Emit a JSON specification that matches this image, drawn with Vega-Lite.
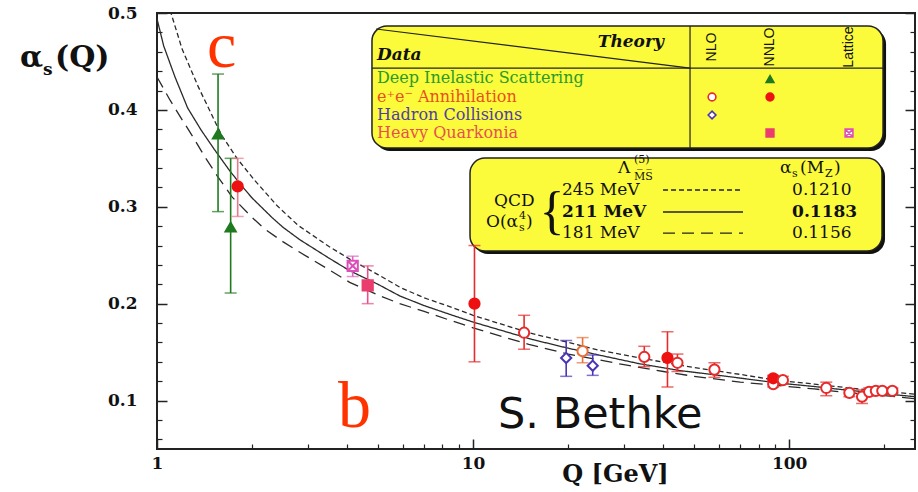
{
  "$schema": "https://vega.github.io/schema/vega-lite/v6.json",
  "width": 758,
  "height": 436,
  "autosize": {"type": "none"},
  "padding": {"left": 157, "top": 13, "right": 3, "bottom": 43},
  "background": "#ffffff",
  "config": {
    "view": {"stroke": "#222222", "strokeWidth": 2},
    "axis": {"grid": false, "domain": false, "tickColor": "#222222"}
  },
  "resolve": {"axis": {"x": "independent", "y": "independent"}},
  "datasets": {
    "curves": [
      {"Q": 1.1, "a": 0.503, "lam": "245"}, {"Q": 1.2, "a": 0.463, "lam": "245"}, {"Q": 1.35, "a": 0.424, "lam": "245"},
      {"Q": 1.6, "a": 0.374, "lam": "245"}, {"Q": 1.8, "a": 0.349, "lam": "245"}, {"Q": 2.04, "a": 0.327, "lam": "245"},
      {"Q": 2.4, "a": 0.301, "lam": "245"}, {"Q": 2.79, "a": 0.281, "lam": "245"}, {"Q": 3.5, "a": 0.259, "lam": "245"},
      {"Q": 4.07, "a": 0.246, "lam": "245"}, {"Q": 5, "a": 0.23, "lam": "245"}, {"Q": 5.86, "a": 0.217, "lam": "245"},
      {"Q": 7, "a": 0.206, "lam": "245"}, {"Q": 8.43, "a": 0.197, "lam": "245"}, {"Q": 10, "a": 0.188, "lam": "245"},
      {"Q": 15, "a": 0.17, "lam": "245"}, {"Q": 20, "a": 0.16, "lam": "245"}, {"Q": 25, "a": 0.152, "lam": "245"},
      {"Q": 35, "a": 0.143, "lam": "245"}, {"Q": 50, "a": 0.134, "lam": "245"}, {"Q": 70, "a": 0.127, "lam": "245"},
      {"Q": 91.2, "a": 0.121, "lam": "245"}, {"Q": 120, "a": 0.117, "lam": "245"}, {"Q": 150, "a": 0.1135, "lam": "245"},
      {"Q": 200, "a": 0.1095, "lam": "245"}, {"Q": 250, "a": 0.1065, "lam": "245"},
      {"Q": 1.0, "a": 0.494, "lam": "211"}, {"Q": 1.05, "a": 0.466, "lam": "211"}, {"Q": 1.14, "a": 0.434, "lam": "211"},
      {"Q": 1.25, "a": 0.402, "lam": "211"}, {"Q": 1.38, "a": 0.379, "lam": "211"}, {"Q": 1.52, "a": 0.359, "lam": "211"},
      {"Q": 1.7, "a": 0.337, "lam": "211"}, {"Q": 1.86, "a": 0.321, "lam": "211"}, {"Q": 2.0, "a": 0.309, "lam": "211"},
      {"Q": 2.31, "a": 0.289, "lam": "211"}, {"Q": 2.5, "a": 0.279, "lam": "211"}, {"Q": 2.83, "a": 0.266, "lam": "211"},
      {"Q": 3.5, "a": 0.247, "lam": "211"}, {"Q": 4.07, "a": 0.234, "lam": "211"}, {"Q": 5, "a": 0.22, "lam": "211"},
      {"Q": 5.86, "a": 0.208, "lam": "211"}, {"Q": 7, "a": 0.198, "lam": "211"}, {"Q": 8.43, "a": 0.189, "lam": "211"},
      {"Q": 10, "a": 0.181, "lam": "211"}, {"Q": 15.4, "a": 0.163, "lam": "211"}, {"Q": 20, "a": 0.154, "lam": "211"},
      {"Q": 25, "a": 0.147, "lam": "211"}, {"Q": 33.6, "a": 0.138, "lam": "211"}, {"Q": 45, "a": 0.131, "lam": "211"},
      {"Q": 60, "a": 0.126, "lam": "211"}, {"Q": 91.2, "a": 0.1183, "lam": "211"}, {"Q": 120, "a": 0.1145, "lam": "211"},
      {"Q": 150, "a": 0.111, "lam": "211"}, {"Q": 200, "a": 0.107, "lam": "211"}, {"Q": 250, "a": 0.104, "lam": "211"},
      {"Q": 1.0, "a": 0.434, "lam": "181"}, {"Q": 1.1, "a": 0.41, "lam": "181"}, {"Q": 1.2, "a": 0.39, "lam": "181"},
      {"Q": 1.3, "a": 0.372, "lam": "181"}, {"Q": 1.42, "a": 0.351, "lam": "181"}, {"Q": 1.55, "a": 0.332, "lam": "181"},
      {"Q": 1.73, "a": 0.31, "lam": "181"}, {"Q": 2.0, "a": 0.289, "lam": "181"}, {"Q": 2.19, "a": 0.277, "lam": "181"},
      {"Q": 2.5, "a": 0.264, "lam": "181"}, {"Q": 2.83, "a": 0.253, "lam": "181"}, {"Q": 3.5, "a": 0.235, "lam": "181"},
      {"Q": 4.07, "a": 0.222, "lam": "181"}, {"Q": 5, "a": 0.209, "lam": "181"}, {"Q": 5.86, "a": 0.2, "lam": "181"},
      {"Q": 7, "a": 0.192, "lam": "181"}, {"Q": 8.43, "a": 0.183, "lam": "181"}, {"Q": 10, "a": 0.175, "lam": "181"},
      {"Q": 15, "a": 0.158, "lam": "181"}, {"Q": 20, "a": 0.148, "lam": "181"}, {"Q": 25, "a": 0.142, "lam": "181"},
      {"Q": 30, "a": 0.137, "lam": "181"}, {"Q": 40, "a": 0.13, "lam": "181"}, {"Q": 50, "a": 0.125, "lam": "181"},
      {"Q": 70, "a": 0.119, "lam": "181"}, {"Q": 91.2, "a": 0.1156, "lam": "181"}, {"Q": 120, "a": 0.112, "lam": "181"},
      {"Q": 150, "a": 0.1085, "lam": "181"}, {"Q": 200, "a": 0.105, "lam": "181"}, {"Q": 250, "a": 0.102, "lam": "181"}
    ],
    "pts": [
      {"Q": 1.56, "v": 0.375, "lo": 0.295, "hi": 0.437, "kind": "tri", "eb": "dis"},
      {"Q": 1.71, "v": 0.279, "lo": 0.211, "hi": 0.35, "kind": "tri", "eb": "dis"},
      {"Q": 1.8, "v": 0.321, "lo": 0.29, "hi": 0.35, "kind": "dot", "eb": "tau"},
      {"Q": 4.16, "v": 0.239, "lo": 0.228, "hi": 0.249, "kind": "lat", "eb": "lat"},
      {"Q": 4.64, "v": 0.219, "lo": 0.2, "hi": 0.239, "kind": "sq", "eb": "hq"},
      {"Q": 10.1, "v": 0.2, "lo": 0.14, "hi": 0.26, "kind": "dot", "eb": "ee"},
      {"Q": 14.5, "v": 0.17, "lo": 0.153, "hi": 0.188, "kind": "ring", "eb": "ee"},
      {"Q": 19.7, "v": 0.144, "lo": 0.125, "hi": 0.162, "kind": "dia", "eb": "had"},
      {"Q": 22.2, "v": 0.151, "lo": 0.139, "hi": 0.165, "kind": "ring2", "eb": "ee2"},
      {"Q": 23.9, "v": 0.136, "lo": 0.126, "hi": 0.147, "kind": "dia", "eb": "had"},
      {"Q": 34.8, "v": 0.145, "lo": 0.135, "hi": 0.156, "kind": "ring", "eb": "ee"},
      {"Q": 41.2, "v": 0.144, "lo": 0.114, "hi": 0.171, "kind": "dot", "eb": "ee"},
      {"Q": 44.3, "v": 0.139, "lo": 0.13, "hi": 0.148, "kind": "ring", "eb": "ee"},
      {"Q": 58.0, "v": 0.132, "lo": 0.124, "hi": 0.139, "kind": "ring", "eb": "ee"},
      {"Q": 89.0, "v": 0.117, "lo": 0.114, "hi": 0.12, "kind": "ring", "eb": "ee"},
      {"Q": 89.0, "v": 0.123, "lo": 0.12, "hi": 0.126, "kind": "dot", "eb": "ee"},
      {"Q": 95.5, "v": 0.121, "lo": 0.117, "hi": 0.125, "kind": "ring", "eb": "ee"},
      {"Q": 131, "v": 0.113, "lo": 0.105, "hi": 0.119, "kind": "ring", "eb": "ee"},
      {"Q": 155, "v": 0.108, "lo": 0.104, "hi": 0.112, "kind": "ring", "eb": "ee"},
      {"Q": 170, "v": 0.104, "lo": 0.097, "hi": 0.111, "kind": "ring", "eb": "ee"},
      {"Q": 179, "v": 0.109, "lo": 0.105, "hi": 0.113, "kind": "ring", "eb": "ee"},
      {"Q": 188, "v": 0.11, "lo": 0.106, "hi": 0.114, "kind": "ring", "eb": "ee"},
      {"Q": 197, "v": 0.11, "lo": 0.107, "hi": 0.113, "kind": "ring", "eb": "ee"},
      {"Q": 212, "v": 0.11, "lo": 0.107, "hi": 0.113, "kind": "ring", "eb": "ee"}
    ],
    "keys": [
      {"Q": 86.95, "a": 0.4319, "kind": "tri"},
      {"Q": 57.0, "a": 0.4133, "kind": "ring"},
      {"Q": 86.95, "a": 0.4133, "kind": "dot"},
      {"Q": 57.0, "a": 0.3947, "kind": "dia"},
      {"Q": 86.95, "a": 0.3761, "kind": "sq"},
      {"Q": 154.6, "a": 0.3761, "kind": "lat"}
    ],
    "boxes": [
      {"x1": 4.787, "x2": 198.1, "y1": 0.4866, "y2": 0.3607},
      {"x1": 9.777, "x2": 196.6, "y1": 0.3503, "y2": 0.2544}
    ],
    "seps": [
      {"x1": 48.56, "y1": 0.4866, "x2": 48.56, "y2": 0.3607},
      {"x1": 4.787, "y1": 0.4432, "x2": 198.1, "y2": 0.4432},
      {"x1": 4.93, "y1": 0.4835, "x2": 48.56, "y2": 0.4432}
    ],
    "samples": [
      {"x1": 39.88, "x2": 71.42, "y": 0.3173, "lam": "245"},
      {"x1": 39.88, "x2": 71.42, "y": 0.2946, "lam": "211"},
      {"x1": 39.88, "x2": 71.42, "y": 0.2729, "lam": "181"}
    ]
  },
  "layer": [
    {
      "data": {"name": "boxes"},
      "mark": {"type": "rect", "fill": "#111111", "cornerRadius": 15, "xOffset": 3, "x2Offset": 3, "yOffset": 3, "y2Offset": 3},
      "encoding": {
        "x": {"field": "x1", "type": "quantitative", "scale": {"type": "log", "domain": [1, 250], "nice": false}, "axis": null},
        "x2": {"field": "x2"},
        "y": {"field": "y1", "type": "quantitative", "scale": {"domain": [0.05, 0.5], "nice": false, "zero": false}, "axis": null},
        "y2": {"field": "y2"}
      }
    },
    {
      "data": {"name": "boxes"},
      "mark": {"type": "rect", "fill": "#fbfb3c", "stroke": "#222222", "strokeWidth": 1.5, "cornerRadius": 15},
      "encoding": {
        "x": {"field": "x1", "type": "quantitative", "scale": {"type": "log", "domain": [1, 250], "nice": false}, "axis": null},
        "x2": {"field": "x2"},
        "y": {"field": "y1", "type": "quantitative", "scale": {"domain": [0.05, 0.5], "nice": false, "zero": false}, "axis": null},
        "y2": {"field": "y2"}
      }
    },
    {
      "data": {"name": "seps"},
      "mark": {"type": "rule", "stroke": "#222222", "strokeWidth": 1.2},
      "encoding": {
        "x": {"field": "x1", "type": "quantitative", "scale": {"type": "log", "domain": [1, 250], "nice": false}, "axis": null},
        "x2": {"field": "x2"},
        "y": {"field": "y1", "type": "quantitative", "scale": {"domain": [0.05, 0.5], "nice": false, "zero": false}, "axis": null},
        "y2": {"field": "y2"}
      }
    },
    {
      "data": {"name": "samples"},
      "mark": {"type": "rule", "stroke": "#222222", "strokeWidth": 1.3},
      "encoding": {
        "x": {"field": "x1", "type": "quantitative", "scale": {"type": "log", "domain": [1, 250], "nice": false}, "axis": null},
        "x2": {"field": "x2"},
        "y": {"field": "y", "type": "quantitative", "scale": {"domain": [0.05, 0.5], "nice": false, "zero": false}, "axis": null},
        "strokeDash": {"field": "lam", "type": "nominal", "scale": {"domain": ["245", "211", "181"], "range": [[5, 3], [1, 0], [12, 7]]}, "legend": null}
      }
    },
    {
      "data": {"name": "curves"},
      "mark": {"type": "line", "clip": true, "stroke": "#2a2a2a", "strokeWidth": 1.3},
      "encoding": {
        "x": {
          "field": "Q", "type": "quantitative",
          "scale": {"type": "log", "domain": [1, 250], "nice": false},
          "axis": {
            "orient": "bottom",
            "values": [1, 10, 100],
            "format": "d",
            "offset": -10,
            "tickSize": 10, "tickWidth": 1.5,
            "labelFont": "DejaVu Serif", "labelFontWeight": "bold", "labelFontSize": 17, "labelColor": "#111111",
            "labelPadding": 6, "labelFlush": false, "labelOverlap": false,
            "title": "Q [GeV]", "titleFont": "DejaVu Serif", "titleFontWeight": "bold", "titleFontSize": 24, "titleColor": "#111111",
            "titleX": 458, "titleY": 35, "titleBaseline": "middle", "titleAlign": "center"
          }
        },
        "y": {
          "field": "a", "type": "quantitative",
          "scale": {"domain": [0.05, 0.5], "nice": false, "zero": false},
          "axis": {
            "orient": "left",
            "values": [0.1, 0.2, 0.3, 0.4, 0.5],
            "format": ".1f",
            "offset": -10,
            "tickSize": 10, "tickWidth": 1.5,
            "labelFont": "DejaVu Serif", "labelFontWeight": "bold", "labelFontSize": 17, "labelColor": "#111111",
            "labelPadding": 20, "labelFlush": false, "labelOverlap": false,
            "title": null
          }
        },
        "strokeDash": {"field": "lam", "type": "nominal", "scale": {"domain": ["245", "211", "181"], "range": [[5, 3], [1, 0], [12, 7]]}, "legend": null}
      }
    },
    {
      "data": {"name": "pts"},
      "mark": {"type": "rule", "strokeWidth": 1.6},
      "encoding": {
        "x": {
          "field": "Q", "type": "quantitative",
          "scale": {"type": "log", "domain": [1, 250], "nice": false},
          "axis": {
            "orient": "bottom",
            "values": [2, 3, 4, 5, 6, 7, 8, 9, 20, 30, 40, 50, 60, 70, 80, 90, 200],
            "labels": false,
            "offset": -5,
            "tickSize": 5, "tickWidth": 1.2,
            "title": null
          }
        },
        "y": {
          "field": "lo", "type": "quantitative",
          "scale": {"domain": [0.05, 0.5], "nice": false, "zero": false},
          "axis": {
            "orient": "right",
            "values": [0.1, 0.2, 0.3, 0.4, 0.5],
            "labels": false,
            "offset": -10,
            "tickSize": 10, "tickWidth": 1.5,
            "title": null
          }
        },
        "y2": {"field": "hi"},
        "color": {
          "field": "eb", "type": "nominal",
          "scale": {
            "domain": ["dis", "tau", "ee", "ee2", "had", "hq", "lat", "t_dis", "t_ee", "t_had", "t_hq"],
            "range": ["#1f7a1f", "#e67a8c", "#e52b2b", "#e8703a", "#4b35b5", "#ea4f8a", "#e063c2", "#2a9a2a", "#e8501e", "#5040a0", "#e85050"]
          },
          "legend": null
        }
      }
    },
    {
      "data": {"name": "pts"},
      "mark": {"type": "tick", "orient": "horizontal", "size": 12, "thickness": 1.5},
      "encoding": {
        "x": {"field": "Q", "type": "quantitative", "scale": {"type": "log", "domain": [1, 250], "nice": false}, "axis": null},
        "y": {
          "field": "lo", "type": "quantitative",
          "scale": {"domain": [0.05, 0.5], "nice": false, "zero": false},
          "axis": {
            "orient": "left",
            "values": [0.06, 0.08, 0.12, 0.14, 0.16, 0.18, 0.22, 0.24, 0.26, 0.28, 0.32, 0.34, 0.36, 0.38, 0.42, 0.44, 0.46, 0.48],
            "labels": false,
            "offset": -5,
            "tickSize": 5, "tickWidth": 1.2,
            "title": null
          }
        },
        "color": {"field": "eb", "type": "nominal", "legend": null}
      }
    },
    {
      "data": {"name": "pts"},
      "mark": {"type": "tick", "orient": "horizontal", "size": 12, "thickness": 1.5},
      "encoding": {
        "x": {"field": "Q", "type": "quantitative", "scale": {"type": "log", "domain": [1, 250], "nice": false}, "axis": null},
        "y": {
          "field": "hi", "type": "quantitative",
          "scale": {"domain": [0.05, 0.5], "nice": false, "zero": false},
          "axis": {
            "orient": "right",
            "values": [0.06, 0.08, 0.12, 0.14, 0.16, 0.18, 0.22, 0.24, 0.26, 0.28, 0.32, 0.34, 0.36, 0.38, 0.42, 0.44, 0.46, 0.48],
            "labels": false,
            "offset": -5,
            "tickSize": 5, "tickWidth": 1.2,
            "title": null
          }
        },
        "color": {"field": "eb", "type": "nominal", "legend": null}
      }
    },
    {
      "data": {"name": "pts"},
      "mark": {"type": "point", "filled": true, "size": 105, "strokeWidth": 2, "opacity": 1},
      "encoding": {
        "x": {"field": "Q", "type": "quantitative", "scale": {"type": "log", "domain": [1, 250], "nice": false}, "axis": null},
        "y": {"field": "v", "type": "quantitative", "scale": {"domain": [0.05, 0.5], "nice": false, "zero": false}, "axis": null},
        "shape": {
          "field": "kind", "type": "nominal",
          "scale": {
            "domain": ["tri", "dot", "ring", "ring2", "dia", "sq", "lat"],
            "range": ["triangle-up", "circle", "circle", "circle", "diamond", "square", "M-1,-1H1V1H-1ZM-1,-1L1,1M1,-1L-1,1"]
          },
          "legend": null
        },
        "fill": {
          "field": "kind", "type": "nominal",
          "scale": {
            "domain": ["tri", "dot", "ring", "ring2", "dia", "sq", "lat"],
            "range": ["#1f7a1f", "#ee1111", "#ffffff", "#ffffff", "#ffffff", "#ea3d6e", "#ffffff"]
          },
          "legend": null
        },
        "stroke": {
          "field": "kind", "type": "nominal",
          "scale": {
            "domain": ["tri", "dot", "ring", "ring2", "dia", "sq", "lat"],
            "range": ["#1f7a1f", "#ee1111", "#e52b2b", "#e8703a", "#4b35b5", "#ea3d6e", "#dd4fb8"]
          },
          "legend": null
        }
      }
    },
    {
      "data": {"name": "keys"},
      "mark": {"type": "point", "filled": true, "size": 60, "strokeWidth": 1.6, "opacity": 1},
      "encoding": {
        "x": {"field": "Q", "type": "quantitative", "scale": {"type": "log", "domain": [1, 250], "nice": false}, "axis": null},
        "y": {"field": "a", "type": "quantitative", "scale": {"domain": [0.05, 0.5], "nice": false, "zero": false}, "axis": null},
        "shape": {"field": "kind", "type": "nominal", "legend": null},
        "fill": {"field": "kind", "type": "nominal", "legend": null},
        "stroke": {"field": "kind", "type": "nominal", "legend": null}
      }
    },
    {
      "data": {"values": [
        {"t": "c", "Q": 1.439, "a": 0.4443},
        {"t": "b", "Q": 3.738, "a": 0.0727}
      ]},
      "mark": {"type": "text", "font": "Liberation Serif", "fontSize": 66, "align": "left", "baseline": "alphabetic", "color": "#ff3300"},
      "encoding": {
        "x": {"field": "Q", "type": "quantitative", "scale": {"type": "log", "domain": [1, 250], "nice": false}, "axis": null},
        "y": {"field": "a", "type": "quantitative", "scale": {"domain": [0.05, 0.5], "nice": false, "zero": false}, "axis": null},
        "text": {"field": "t"}
      }
    },
    {
      "data": {"values": [{"t": "S. Bethke", "Q": 11.99, "a": 0.0717}]},
      "mark": {"type": "text", "font": "DejaVu Sans", "fontSize": 43, "align": "left", "baseline": "alphabetic", "color": "#111111"},
      "encoding": {
        "x": {"field": "Q", "type": "quantitative", "scale": {"type": "log", "domain": [1, 250], "nice": false}, "axis": null},
        "y": {"field": "a", "type": "quantitative", "scale": {"domain": [0.05, 0.5], "nice": false, "zero": false}, "axis": null},
        "text": {"field": "t"}
      }
    },
    {
      "data": {"values": [
        {"t": "α", "Q": 0.3686, "a": 0.4443},
        {"t": "(Q)", "Q": 0.4757, "a": 0.4443}
      ]},
      "mark": {"type": "text", "font": "DejaVu Serif", "fontWeight": "bold", "fontSize": 30, "align": "left", "baseline": "alphabetic", "color": "#111111"},
      "encoding": {
        "x": {"field": "Q", "type": "quantitative", "scale": {"type": "log", "domain": [1, 250], "nice": false}, "axis": null},
        "y": {"field": "a", "type": "quantitative", "scale": {"domain": [0.05, 0.5], "nice": false, "zero": false}, "axis": null},
        "text": {"field": "t"}
      }
    },
    {
      "data": {"values": [{"t": "s", "Q": 0.4357, "a": 0.436}]},
      "mark": {"type": "text", "font": "DejaVu Serif", "fontWeight": "bold", "fontSize": 17, "align": "left", "baseline": "alphabetic", "color": "#111111"},
      "encoding": {
        "x": {"field": "Q", "type": "quantitative", "scale": {"type": "log", "domain": [1, 250], "nice": false}, "axis": null},
        "y": {"field": "a", "type": "quantitative", "scale": {"domain": [0.05, 0.5], "nice": false, "zero": false}, "axis": null},
        "text": {"field": "t"}
      }
    },
    {
      "data": {"values": [
        {"t": "Theory", "Q": 24.8, "a": 0.4649},
        {"t": "Data", "Q": 4.966, "a": 0.4515}
      ]},
      "mark": {"type": "text", "font": "DejaVu Serif", "fontWeight": "bold", "fontStyle": "italic", "fontSize": 17, "align": "left", "baseline": "alphabetic", "color": "#111111"},
      "encoding": {
        "x": {"field": "Q", "type": "quantitative", "scale": {"type": "log", "domain": [1, 250], "nice": false}, "axis": null},
        "y": {"field": "a", "type": "quantitative", "scale": {"domain": [0.05, 0.5], "nice": false, "zero": false}, "axis": null},
        "text": {"field": "t"}
      }
    },
    {
      "data": {"values": [
        {"t": "NLO", "Q": 57.0, "a": 0.4649},
        {"t": "NNLO", "Q": 86.95, "a": 0.4649},
        {"t": "Lattice", "Q": 154.6, "a": 0.4649}
      ]},
      "mark": {"type": "text", "font": "Liberation Sans", "fontSize": 14, "angle": 270, "align": "center", "baseline": "middle", "color": "#111111"},
      "encoding": {
        "x": {"field": "Q", "type": "quantitative", "scale": {"type": "log", "domain": [1, 250], "nice": false}, "axis": null},
        "y": {"field": "a", "type": "quantitative", "scale": {"domain": [0.05, 0.5], "nice": false, "zero": false}, "axis": null},
        "text": {"field": "t"}
      }
    },
    {
      "data": {"values": [
        {"t": "Deep Inelastic Scattering", "Q": 4.966, "a": 0.4329, "cat": "t_dis"},
        {"t": "e⁺e⁻ Annihilation", "Q": 4.966, "a": 0.4133, "cat": "t_ee"},
        {"t": "Hadron Collisions", "Q": 4.966, "a": 0.3947, "cat": "t_had"},
        {"t": "Heavy Quarkonia", "Q": 4.966, "a": 0.3761, "cat": "t_hq"}
      ]},
      "mark": {"type": "text", "font": "DejaVu Serif", "fontSize": 16, "align": "left", "baseline": "middle"},
      "encoding": {
        "x": {"field": "Q", "type": "quantitative", "scale": {"type": "log", "domain": [1, 250], "nice": false}, "axis": null},
        "y": {"field": "a", "type": "quantitative", "scale": {"domain": [0.05, 0.5], "nice": false, "zero": false}, "axis": null},
        "text": {"field": "t"},
        "color": {"field": "cat", "type": "nominal", "legend": null}
      }
    },
    {
      "data": {"values": [
        {"t": "Λ", "Q": 28.74, "a": 0.34},
        {"t": "α", "Q": 93.51, "a": 0.34},
        {"t": "(M", "Q": 108.2, "a": 0.34},
        {"t": ")", "Q": 138.6, "a": 0.34},
        {"t": "QCD", "Q": 11.65, "a": 0.306},
        {"t": "O(α", "Q": 10.98, "a": 0.2843},
        {"t": ")", "Q": 14.7, "a": 0.2843},
        {"t": "245 MeV", "Q": 19.11, "a": 0.3173},
        {"t": "0.1210", "Q": 102.1, "a": 0.3173},
        {"t": "181 MeV", "Q": 19.11, "a": 0.2729},
        {"t": "0.1156", "Q": 102.1, "a": 0.2729}
      ]},
      "mark": {"type": "text", "font": "DejaVu Serif", "fontSize": 17, "align": "left", "baseline": "middle", "color": "#111111"},
      "encoding": {
        "x": {"field": "Q", "type": "quantitative", "scale": {"type": "log", "domain": [1, 250], "nice": false}, "axis": null},
        "y": {"field": "a", "type": "quantitative", "scale": {"domain": [0.05, 0.5], "nice": false, "zero": false}, "axis": null},
        "text": {"field": "t"}
      }
    },
    {
      "data": {"values": [
        {"t": "211 MeV", "Q": 19.11, "a": 0.2946},
        {"t": "0.1183", "Q": 102.1, "a": 0.2946}
      ]},
      "mark": {"type": "text", "font": "DejaVu Serif", "fontWeight": "bold", "fontSize": 17, "align": "left", "baseline": "middle", "color": "#111111"},
      "encoding": {
        "x": {"field": "Q", "type": "quantitative", "scale": {"type": "log", "domain": [1, 250], "nice": false}, "axis": null},
        "y": {"field": "a", "type": "quantitative", "scale": {"domain": [0.05, 0.5], "nice": false, "zero": false}, "axis": null},
        "text": {"field": "t"}
      }
    },
    {
      "data": {"values": [
        {"t": "(5)", "Q": 32.29, "a": 0.3483},
        {"t": "M̅S̅", "Q": 32.29, "a": 0.3307},
        {"t": "s", "Q": 102.1, "a": 0.3338},
        {"t": "Z", "Q": 129.8, "a": 0.3338},
        {"t": "4", "Q": 13.97, "a": 0.2905},
        {"t": "s", "Q": 13.97, "a": 0.2781}
      ]},
      "mark": {"type": "text", "font": "DejaVu Serif", "fontSize": 11, "align": "left", "baseline": "middle", "color": "#111111"},
      "encoding": {
        "x": {"field": "Q", "type": "quantitative", "scale": {"type": "log", "domain": [1, 250], "nice": false}, "axis": null},
        "y": {"field": "a", "type": "quantitative", "scale": {"domain": [0.05, 0.5], "nice": false, "zero": false}, "axis": null},
        "text": {"field": "t"}
      }
    },
    {
      "data": {"values": [{"t": "{", "Q": 17.77, "a": 0.2946}]},
      "mark": {"type": "text", "font": "Liberation Serif", "fontSize": 52, "align": "center", "baseline": "middle", "color": "#111111"},
      "encoding": {
        "x": {"field": "Q", "type": "quantitative", "scale": {"type": "log", "domain": [1, 250], "nice": false}, "axis": null},
        "y": {"field": "a", "type": "quantitative", "scale": {"domain": [0.05, 0.5], "nice": false, "zero": false}, "axis": null},
        "text": {"field": "t"}
      }
    }
  ]
}
